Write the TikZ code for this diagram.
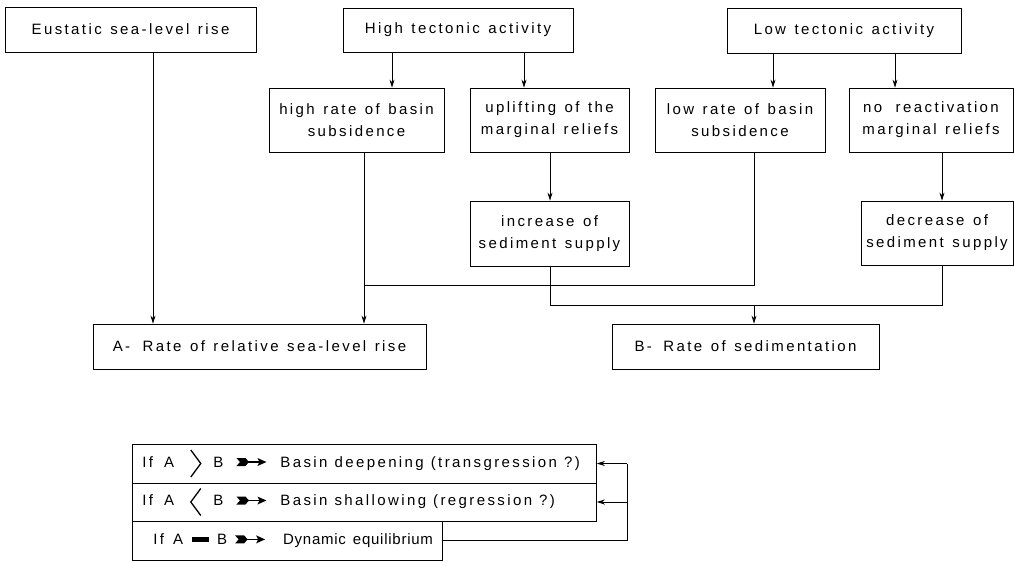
\documentclass[tikz,border=0pt]{standalone}
\usepackage{fontspec}
\setmainfont{Liberation Sans}[LetterSpace=16]
\usetikzlibrary{arrows.meta,calc}
\newcommand\myGt{\tikz[baseline=0pt,x=1pt,y=1pt]\draw[line width=1.3pt,line join=miter] (0,17) -- (10,3.5) -- (0,-10);}
\newcommand\myLt{\tikz[baseline=0pt,x=1pt,y=1pt]\draw[line width=1.3pt,line join=miter] (10,17) -- (0,3.5) -- (10,-10);}
\newcommand\myEq{\tikz[baseline=0pt,x=1pt,y=1pt]\fill (0,2.5) rectangle (17,7.5);}
\newcommand\myArr{\tikz[baseline=0pt,x=1pt,y=1pt]{\fill (0,9) -- (9,9) -- (12.5,5) -- (9,1) -- (0,1) -- (3.5,5) -- cycle;
  \draw[line width=1.3pt] (11,5) -- (24,5);
  \fill (30,5) -- (21,9) -- (23,5) -- (21,1) -- cycle;}}
\newcommand\boxfont{\fontsize{15}{22}\selectfont\spaceskip=8.5pt plus 2pt minus 0.5pt\relax}
\newcommand\rowfont{\fontsize{15}{22}\selectfont\spaceskip=7pt plus 2pt minus 0.5pt\relax}
\tikzset{
  box/.style={draw, line width=0.8pt, inner sep=0pt, align=center, font=\boxfont},
  rowbox/.style={draw, line width=0.8pt, inner ysep=0pt, inner xsep=10pt, align=left,
    font=\rowfont, anchor=west},
  arr/.style={line width=0.8pt, -{Stealth[length=8pt,width=5pt]}},
  con/.style={line width=0.8pt}
}
\begin{document}
\begin{tikzpicture}[x=1pt,y=-1pt]
\useasboundingbox (0,0) rectangle (1014,562);
% top row
\node[box, minimum width=251, minimum height=45] (eus) at (130.5,29.5) {Eustatic sea-level rise};
\node[box, minimum width=230, minimum height=44] (high) at (458,30) {High tectonic activity};
\node[box, minimum width=234, minimum height=45] (low) at (844,30.5) {Low tectonic activity};
% second row
\node[box, minimum width=175, minimum height=64] (hrate) at (356.5,120) {high rate of basin\\subsidence};
\node[box, minimum width=159, minimum height=64] (upl) at (549.5,120) {uplifting of the\\marginal reliefs};
\node[box, minimum width=170, minimum height=64] (lrate) at (740,120) {low rate of basin\\subsidence};
\node[box, minimum width=164, minimum height=64] (noreact) at (931,120) {no\hspace{5pt} reactivation\\marginal reliefs};
% third row
\node[box, minimum width=159, minimum height=65] (incr) at (549.5,233.5) {increase of\\sediment supply};
\node[box, minimum width=152, minimum height=64] (decr) at (937,233) {decrease of\\sediment supply};
% result boxes
\node[box, minimum width=333, minimum height=45] (A) at (259.5,346.5) {A-\hspace{4pt} Rate of relative sea-level rise};
\node[box, minimum width=267, minimum height=45] (B) at (745.5,346.5) {B-\hspace{3pt} Rate of sedimentation};
% bottom rows
\node[rowbox, text width=444, minimum height=39] (r1) at (132,463.5) {\makebox[\linewidth][l]{If\hspace{11pt}A\hspace{16pt}\myGt\hspace{12pt}B\hspace{13pt}\myArr\hspace{14pt}\rowfont Basin deepening (transgression ?)}};
\node[rowbox, text width=444, minimum height=38] (r2) at (132,502) {\makebox[\linewidth][l]{If\hspace{11pt}A\hspace{16pt}\myLt\hspace{12pt}B\hspace{13pt}\myArr\hspace{14pt}\rowfont Basin shallowing (regression ?)}};
\node[rowbox, text width=290, minimum height=39] (r3) at (132,540.5) {\makebox[\linewidth][l]{\hspace{11pt}If\hspace{9pt}A\hspace{9pt}\myEq\hspace{8pt}B\hspace{8pt}\myArr\hspace{18pt}\rowfont\addfontfeatures{LetterSpace=5}Dynamic equilibrium}};
% arrows
\draw[arr] (153,0 |- eus.south) -- (153,0 |- A.north);
\draw[arr] (392,0 |- high.south) -- (392,0 |- hrate.north);
\draw[arr] (524,0 |- high.south) -- (524,0 |- upl.north);
\draw[arr] (773,0 |- low.south) -- (773,0 |- lrate.north);
\draw[arr] (895,0 |- low.south) -- (895,0 |- noreact.north);
\draw[arr] (550,0 |- upl.south) -- (550,0 |- incr.north);
\draw[arr] (942,0 |- noreact.south) -- (942,0 |- decr.north);
\coordinate (jA) at (364,285);
\coordinate (jB) at (754,305);
\draw[arr] (364,0 |- hrate.south) -- (364,0 |- A.north);
\draw[con] (754,0 |- lrate.south) |- (jA);
\draw[con] (550,0 |- incr.south) |- (942,305) -- (942,0 |- decr.south);
\draw[arr] (jB) -- (jB |- B.north);
\coordinate (k1) at (627,0 |- r1.east);
\coordinate (k2) at (627,0 |- r2.east);
\draw[con] (r3.east) -| (k1);
\draw[arr] (k1) -- (r1.east);
\draw[arr] (k2) -- (r2.east);
\end{tikzpicture}
\end{document}
